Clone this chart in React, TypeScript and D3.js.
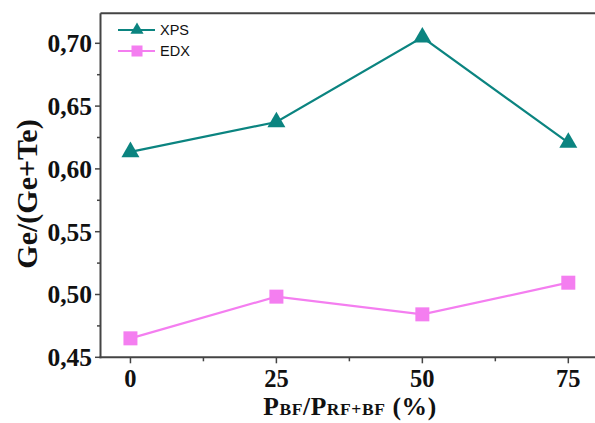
import React from "react";
import * as d3 from "d3";

const xValues = [0, 25, 50, 75];
const xpsValues = [0.6135, 0.6373, 0.7048, 0.6209];
const edxValues = [0.4651, 0.4983, 0.4842, 0.5094];
const yTicks = [0.45, 0.5, 0.55, 0.6, 0.65, 0.7];
const yMinorTicks = [0.475, 0.525, 0.575, 0.625, 0.675];
const xTicks = [0, 25, 50, 75];
const xMinorTicks = [12.5, 37.5, 62.5];

const W = 595;
const H = 423;
const TEAL = "#0b8480";
const PINK = "#f47ef0";
const AXIS = "#444";

export default function App() {
  const x = d3.scaleLinear().domain([-5.13, 80]).range([100.5, 597.5]);
  const y = d3.scaleLinear().domain([0.45, 0.70]).range([357.3, 43.3]);
  const line = d3
    .line<[number, number]>()
    .x((d) => x(d[0]))
    .y((d) => y(d[1]));
  const xps = xValues.map((v, i) => [v, xpsValues[i]] as [number, number]);
  const edx = xValues.map((v, i) => [v, edxValues[i]] as [number, number]);
  const tri = d3.symbol().type(d3.symbolTriangle).size(140)();
  const sq = (cx: number, cy: number, s: number) => (
    <rect x={cx - s / 2} y={cy - s / 2} width={s} height={s} fill={PINK} />
  );
  const fontSerif = "'Liberation Serif', 'Times New Roman', serif";
  const y0 = y(0.45);
  const xL = x(-5.13);
  return (
    <svg
      width={W}
      height={H}
      style={{ position: "absolute", left: 0, top: 0, background: "#fff" }}
    >
      {/* frame */}
      <line x1={xL} x2={W} y1={13.3} y2={13.3} stroke={AXIS} strokeWidth={2} />
      <line x1={xL} x2={xL} y1={13.3} y2={y0 + 1} stroke={AXIS} strokeWidth={2} />
      <line x1={xL - 1} x2={W} y1={y0} y2={y0} stroke={AXIS} strokeWidth={2} />
      {/* y ticks */}
      {yTicks.map((t) => (
        <g key={t}>
          <line x1={xL - 5.5} x2={xL} y1={y(t)} y2={y(t)} stroke={AXIS} strokeWidth={1.5} />
          <text
            x={92}
            y={y(t)}
            dy="0.35em"
            textAnchor="end"
            fontFamily={fontSerif}
            fontWeight="bold"
            fontSize={25.5}
            fill="#111"
          >
            {d3.format(".2f")(t).replace(".", ",")}
          </text>
        </g>
      ))}
      {yMinorTicks.map((t) => (
        <line key={t} x1={xL - 3.5} x2={xL} y1={y(t)} y2={y(t)} stroke={AXIS} strokeWidth={1.5} />
      ))}
      {/* x ticks */}
      {xTicks.map((t) => (
        <g key={t}>
          <line x1={x(t)} x2={x(t)} y1={y0} y2={y0 + 6} stroke={AXIS} strokeWidth={1.5} />
          <text
            x={x(t)}
            y={386.5}
            textAnchor="middle"
            fontFamily={fontSerif}
            fontWeight="bold"
            fontSize={24.5}
            fill="#111"
          >
            {t}
          </text>
        </g>
      ))}
      {xMinorTicks.map((t) => (
        <line key={t} x1={x(t)} x2={x(t)} y1={y0} y2={y0 + 4} stroke={AXIS} strokeWidth={1.5} />
      ))}
      {/* lines */}
      <path d={line(xps) || ""} fill="none" stroke={TEAL} strokeWidth={2.2} />
      <path d={line(edx) || ""} fill="none" stroke={PINK} strokeWidth={2.2} />
      {xps.map((d, i) => (
        <path key={i} d={tri || ""} transform={`translate(${x(d[0])},${y(d[1])})`} fill={TEAL} />
      ))}
      {edx.map((d, i) => (
        <g key={i}>{sq(x(d[0]), y(d[1]), 14)}</g>
      ))}
      {/* legend */}
      <line x1={118} x2={155} y1={30} y2={30} stroke={TEAL} strokeWidth={2} />
      <path d={d3.symbol().type(d3.symbolTriangle).size(75)() || ""} transform="translate(137,30)" fill={TEAL} />
      <text x={160} y={30} dy="0.36em" fontFamily="'Liberation Sans', Arial, sans-serif" fontSize={14.5} fill="#111">
        XPS
      </text>
      <line x1={118} x2={155} y1={51} y2={51} stroke={PINK} strokeWidth={2} />
      {sq(137, 51, 11)}
      <text x={160} y={51} dy="0.36em" fontFamily="'Liberation Sans', Arial, sans-serif" fontSize={14.5} fill="#111">
        EDX
      </text>
      {/* axis titles */}
      <text
        transform={`translate(37,194) rotate(-90)`}
        textAnchor="middle"
        fontFamily={fontSerif}
        fontWeight="bold"
        fontSize={30}
        fill="#111"
      >
        Ge/(Ge+Te)
      </text>
      <text
        x={350}
        y={415}
        textAnchor="middle"
        fontFamily={fontSerif}
        fontWeight="bold"
        fontSize={25.5}
        letterSpacing={0.6}
        fill="#111"
      >
        P<tspan fontSize={17.5}>BF</tspan>/P<tspan fontSize={17.5}>RF+BF</tspan> (%)
      </text>
    </svg>
  );
}
